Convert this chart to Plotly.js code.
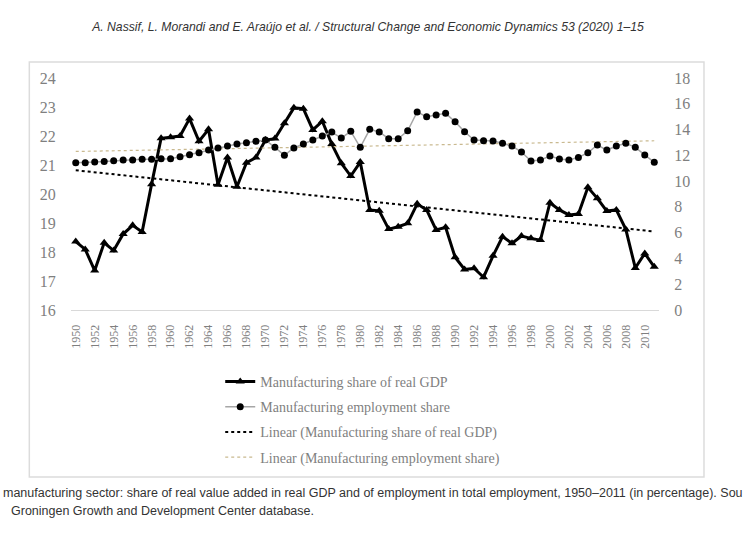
<!DOCTYPE html>
<html>
<head>
<meta charset="utf-8">
<script src="https://cdn.plot.ly/plotly-3.0.1.min.js"></script>
<style>
html,body{margin:0;padding:0;background:#fff;}
#chart{width:750px;height:536px;}
</style>
</head>
<body>
<div id="chart"></div>
<script>
const years = [1950,1951,1952,1953,1954,1955,1956,1957,1958,1959,
1960,1961,1962,1963,1964,1965,1966,1967,1968,1969,
1970,1971,1972,1973,1974,1975,1976,1977,1978,1979,
1980,1981,1982,1983,1984,1985,1986,1987,1988,1989,
1990,1991,1992,1993,1994,1995,1996,1997,1998,1999,
2000,2001,2002,2003,2004,2005,2006,2007,2008,2009,
2010,2011];

const gdpShare = [18.36,18.09,17.36,18.32,18.05,18.62,18.92,18.69,20.34,21.92,
21.96,22.00,22.60,21.82,22.23,20.32,21.26,20.25,21.08,21.26,
21.86,21.91,22.44,22.97,22.94,22.21,22.51,21.72,21.06,20.62,
21.10,19.45,19.42,18.79,18.87,18.99,19.66,19.45,18.76,18.85,
17.82,17.40,17.44,17.13,17.87,18.53,18.30,18.55,18.47,18.41,
19.70,19.45,19.28,19.31,20.23,19.85,19.41,19.45,18.78,17.45,
17.95,17.49];

const empShare = [11.43,11.43,11.48,11.53,11.58,11.64,11.64,11.69,11.69,11.74,
11.74,11.89,12.05,12.20,12.41,12.57,12.72,12.88,12.98,13.09,
13.19,12.62,12.00,12.57,12.88,13.19,13.50,13.81,13.34,13.86,
12.62,14.02,13.81,13.29,13.29,13.91,15.36,15.00,15.13,15.26,
14.61,13.83,13.19,13.13,13.11,12.93,12.72,12.26,11.56,11.64,
11.95,11.71,11.64,11.84,12.20,12.80,12.41,12.72,12.93,12.62,
12.02,11.46];

const yLeftTicks = [16,17,18,19,20,21,22,23,24];
const yRightTicks = [0,2,4,6,8,10,12,14,16,18];

const names = ["Manufacturing share of real GDP","Manufacturing employment share",
  "Linear (Manufacturing share of real GDP)","Linear (Manufacturing employment share)"];

// Linear (least-squares) trend, as a spreadsheet trendline would compute
function linearFit(xs, ys){
  const n = xs.length;
  let sx=0, sy=0, sxx=0, sxy=0;
  for(let i=0;i<n;i++){sx+=xs[i];sy+=ys[i];sxx+=xs[i]*xs[i];sxy+=xs[i]*ys[i];}
  const b=(n*sxy-sx*sy)/(n*sxx-sx*sx), a=(sy-b*sx)/n;
  return xs.map(x=>a+b*x);
}
const gdpTrend = linearFit(years, gdpShare);
const empTrend = linearFit(years, empShare);

const serif = "Liberation Serif, Cambria, Times New Roman, serif";
const sans = "Liberation Sans, Arial, sans-serif";
const gray = "#7f7f7f";

const traces = [
  {x:years, y:empTrend, yaxis:'y2', mode:'lines', name:names[3], legendrank:4, legendgroup:'d',
   line:{color:'#c9b98f', width:1.2, dash:'dot'}, hoverinfo:'skip'},
  {x:years, y:gdpTrend, yaxis:'y', mode:'lines', name:names[2], legendrank:3, legendgroup:'c',
   line:{color:'#000', width:2, dash:'dot'}, hoverinfo:'skip'},
  {x:years, y:empShare, yaxis:'y2', mode:'lines+markers', name:names[1], legendrank:2, legendgroup:'b',
   line:{color:'#a6a6a6', width:1.5}, marker:{symbol:'circle', size:7, color:'#000'}},
  {x:years, y:gdpShare, yaxis:'y', mode:'lines+markers', name:names[0], legendrank:1, legendgroup:'a',
   line:{color:'#000', width:3}, marker:{symbol:'triangle-up', size:8, color:'#000'}}
];

// plot area in px: x 70.7..659, y 78..310
const L=70.7, R=659, T=78, B=310;
const W=R-L, H=B-T;
const px = v => (v-L)/W;
const py = v => (B-v)/H;

const layout = {
  width:750, height:536,
  margin:{l:L, r:750-R, t:T, b:536-B, pad:0},
  paper_bgcolor:'#fff', plot_bgcolor:'#fff',
  showlegend:true,
  title:{text:"A. Nassif, L. Morandi and E. Araújo et al. / Structural Change and Economic Dynamics 53 (2020) 1–15",
    x:368/750, xanchor:'center', xref:'container', y:1-27/536, yanchor:'middle', yref:'container',
    font:{family:sans, size:12.2, color:'#333', style:'italic'}},
  xaxis:{type:'linear', range:[1949.5,2011.5], tickmode:'array', tickvals:years.filter(y=>y%2===0),
    tickangle:-90, tickfont:{family:serif, size:12, color:gray},
    showgrid:false, zeroline:false, showline:true, linecolor:'#d9d9d9', linewidth:1,
    ticks:'outside', ticklen:9, tickcolor:'rgba(0,0,0,0)', fixedrange:true},
  yaxis:{range:[16,24], tickmode:'array', tickvals:yLeftTicks, showgrid:false, zeroline:false,
    showline:false, ticks:'outside', ticklen:11, tickcolor:'rgba(0,0,0,0)',
    tickfont:{family:serif, size:16, color:gray}},
  yaxis2:{range:[0,18], tickmode:'array', tickvals:yRightTicks, overlaying:'y', side:'right',
    showgrid:false, zeroline:false, showline:false, ticks:'outside', ticklen:11,
    tickcolor:'rgba(0,0,0,0)', tickfont:{family:serif, size:16, color:gray}},
  legend:{x:px(220), xanchor:'left', y:py(366), yanchor:'top', orientation:'v',
    traceorder:'grouped', tracegroupgap:4, bgcolor:'rgba(0,0,0,0)',
    font:{family:serif, size:14, color:gray}},
  shapes:[
    {type:'rect', xref:'paper', yref:'paper', x0:px(29), x1:px(704), y0:py(62), y1:py(477),
     line:{color:'#dcdcdc', width:1.5}, fillcolor:'rgba(0,0,0,0)', layer:'below'}
  ],
  annotations:[
    {text:"manufacturing sector: share of real value added in real GDP and of employment in total employment, 1950–2011 (in percentage). Sou",
     xref:'paper', yref:'paper', x:px(1), y:py(493), xanchor:'left', yanchor:'middle', showarrow:false,
     font:{family:sans, size:12.5, color:'#333'}},
    {text:"Groningen Growth and Development Center database.",
     xref:'paper', yref:'paper', x:px(9), y:py(511), xanchor:'left', yanchor:'middle', showarrow:false,
     font:{family:sans, size:12.5, color:'#333'}}
  ]
};

Plotly.newPlot('chart', traces, layout, {staticPlot:true, displayModeBar:false});
</script>
</body>
</html>
